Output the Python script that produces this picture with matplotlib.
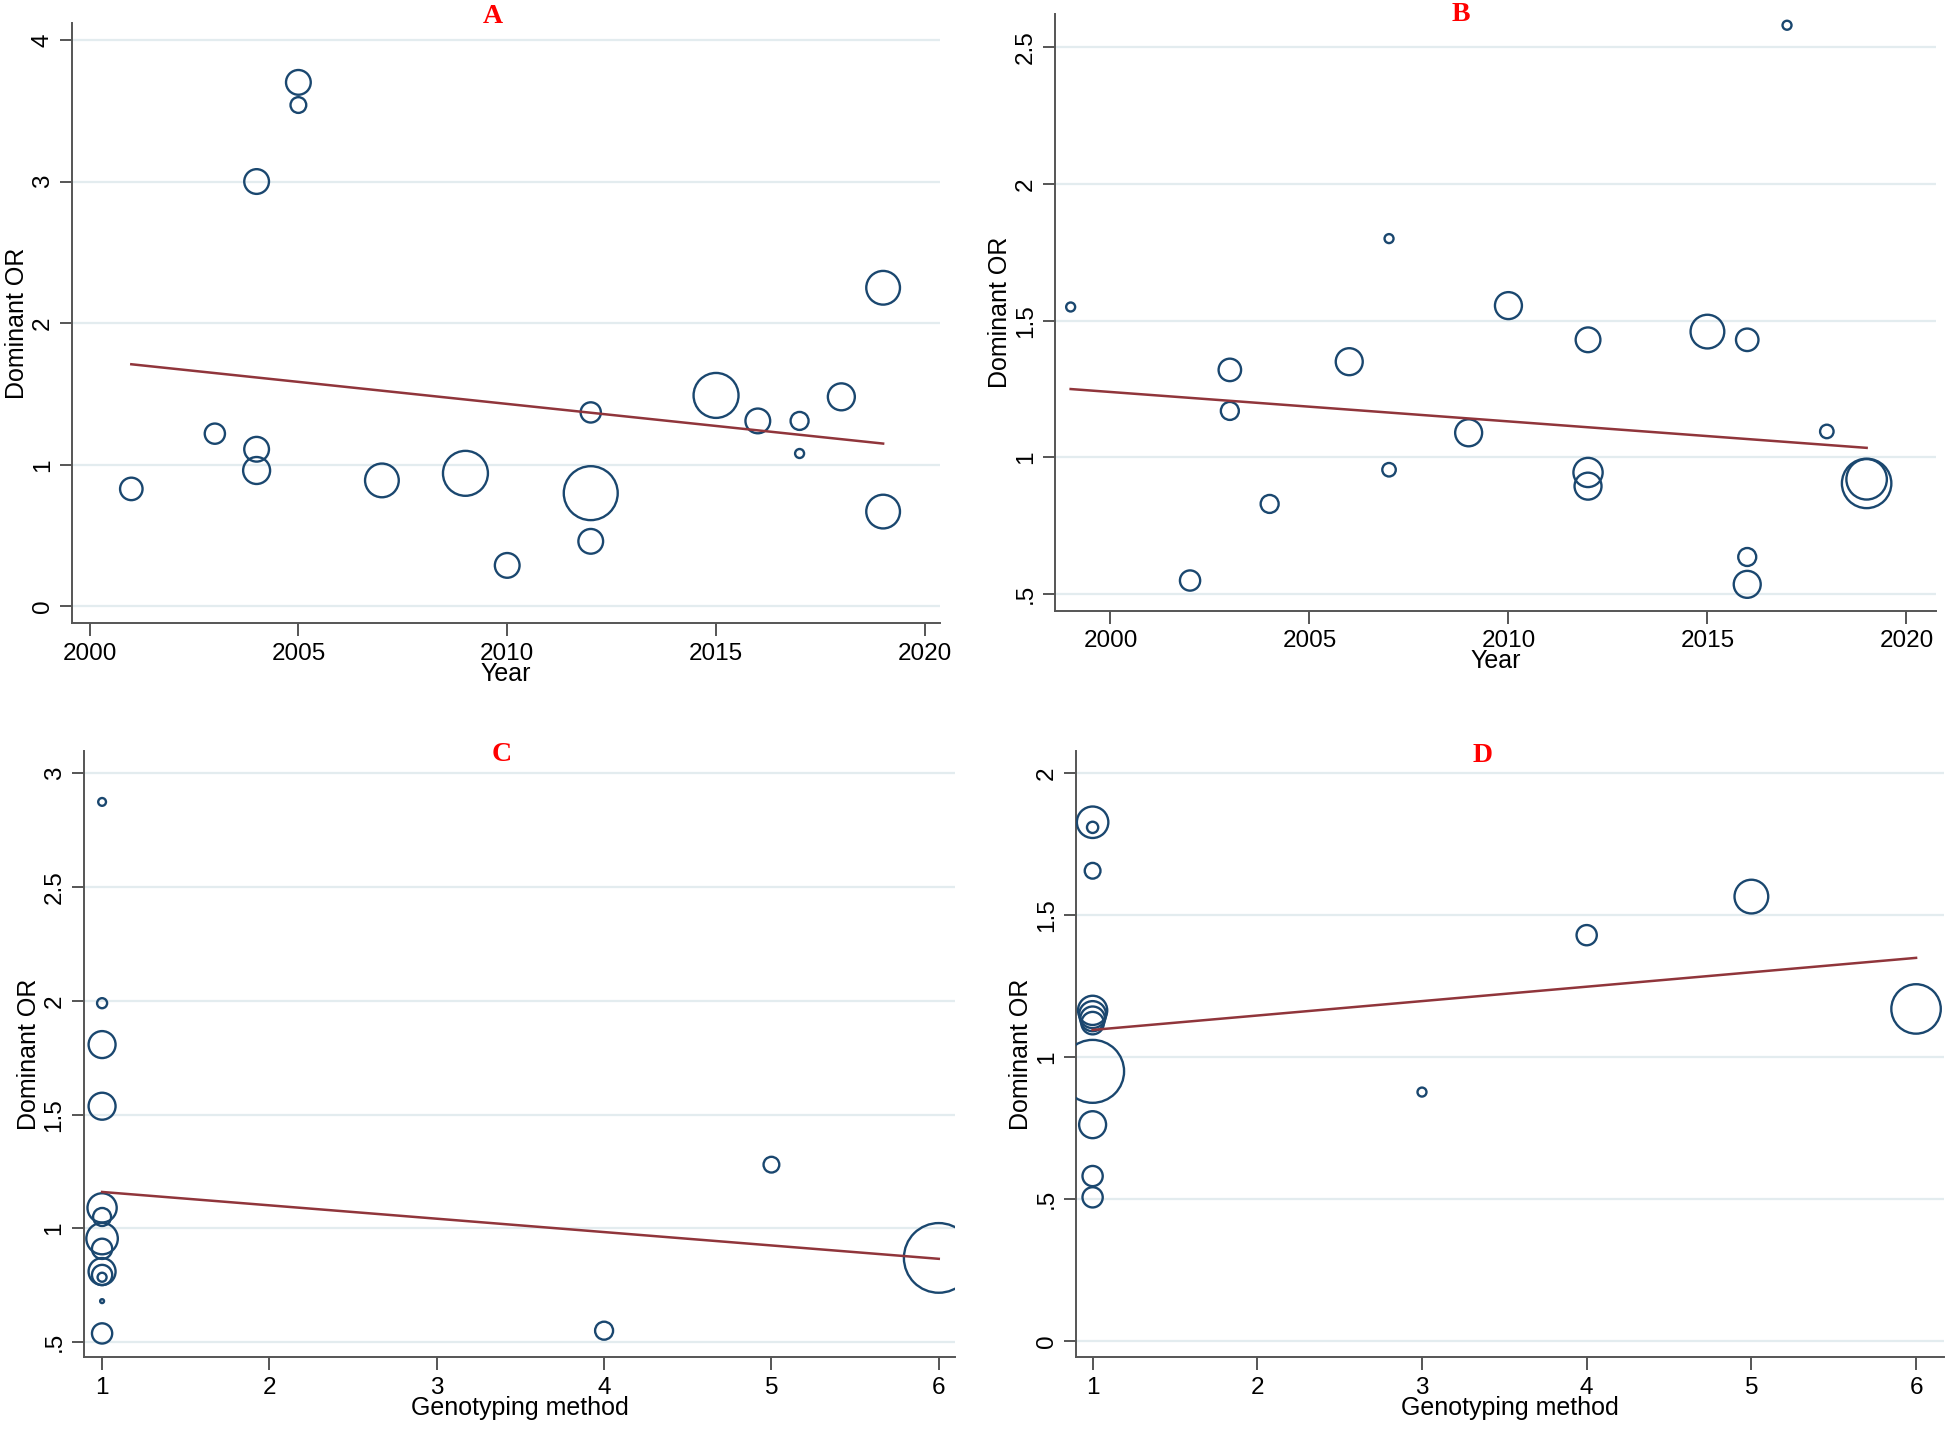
import matplotlib
matplotlib.use("Agg")
import matplotlib.pyplot as plt
import numpy as np

# ---------------- data ----------------
# Panel A: Dominant OR vs Year
yearA = [2001, 2003, 2004, 2004, 2004, 2005, 2005, 2007, 2009, 2010, 2012, 2012, 2012,
         2015, 2016, 2017, 2017, 2018, 2019, 2019]
orA = [0.83, 1.22, 3.00, 1.11, 0.96, 3.70, 3.54, 0.89, 0.94, 0.29, 1.37, 0.80, 0.46,
       1.49, 1.31, 1.31, 1.08, 1.48, 2.25, 0.67]
wA = [100, 81, 121, 121, 144, 121, 49, 225, 400, 121, 81, 576, 121,
      400, 121, 64, 16, 144, 225, 225]
fitA = [1.71, 1.15]

# Panel B: Dominant OR vs Year
yearB = [1999, 2002, 2003, 2003, 2004, 2006, 2007, 2007, 2009, 2010, 2012, 2012, 2012,
         2015, 2016, 2016, 2016, 2017, 2018, 2019, 2019]
orB = [1.55, 0.55, 1.32, 1.17, 0.83, 1.35, 1.80, 0.955, 1.09, 1.555, 1.43, 0.945, 0.895,
       1.46, 1.43, 0.636, 0.536, 2.58, 1.095, 0.92, 0.905]
wB = [16, 81, 100, 64, 64, 144, 16, 36, 144, 144, 121, 169, 144,
      225, 100, 64, 144, 16, 36, 324, 484]
fitB = [1.25, 1.035]

# Panel C: Dominant OR vs Genotyping method
methC = [1, 1, 1, 1, 1, 1, 1, 1, 1, 1, 1, 1, 1, 4, 5, 6]
orC = [2.875, 1.99, 1.808, 1.537, 1.09, 1.05, 0.955, 0.91, 0.81, 0.795, 0.785, 0.68, 0.538,
       0.55, 1.28, 0.87]
wC = [12, 20, 144, 144, 169, 64, 196, 81, 144, 81, 16, 3, 81, 64, 49, 961]
fitC = [1.16, 0.866]

# Panel D: Dominant OR vs Genotyping method
methD = [1, 1, 1, 1, 1, 1, 1, 1, 1, 1, 1, 3, 4, 5, 6]
orD = [1.828, 1.81, 1.657, 1.165, 1.15, 1.135, 1.12, 0.95, 0.762, 0.581, 0.506,
       0.877, 1.43, 1.566, 1.17]
wD = [196, 25, 49, 169, 144, 121, 100, 784, 144, 81, 81, 16, 81, 225, 484]
fitD = [1.096, 1.35]

ylabel = "Dominant OR"
titles = ["A", "B", "C", "D"]

# ---------------- style ----------------
NAVY = "#1a476f"
MAROON = "#90353b"
GRID = "#e3ecef"
SPINE = "#555555"
plt.rcParams["font.family"] = ["Liberation Sans", "DejaVu Sans"]

W, H = 1946, 1430
DPI = 100
fig = plt.figure(figsize=(W / DPI, H / DPI), dpi=DPI)

DISP = 1.241  # display->full factor
K = (2 * DISP * 0.72) ** 2 * 0.82  # weight (disp radius^2) -> scatter s


def fmt(v):
    s = ("%g" % v)
    if s.startswith("0.") and v != 0:
        s = s[1:]
    return s


def panel(rect, x, y, w, fit, xlim, ylim, xticks, yticks, xlabel, title, tpos):
    ax = fig.add_axes(rect)
    ax.set_xlim(*xlim)
    ax.set_ylim(*ylim)
    for yt in yticks:
        ax.axhline(yt, color=GRID, lw=1.6, zorder=0)
    ax.scatter(x, y, s=np.array(w) * K, facecolors="none", edgecolors=NAVY,
               linewidths=1.7, zorder=3)
    xf = [min(x), max(x)]
    ax.plot(xf, fit, color=MAROON, lw=1.8, zorder=4)
    for s in ["top", "right"]:
        ax.spines[s].set_visible(False)
    for s in ["left", "bottom"]:
        ax.spines[s].set_color(SPINE)
        ax.spines[s].set_linewidth(1.4)
    ax.set_xticks(xticks)
    ax.set_xticklabels([fmt(v) for v in xticks], fontsize=17.5)
    ax.set_yticks(yticks)
    ax.set_yticklabels([fmt(v) for v in yticks], fontsize=17.5, rotation=90, va="center")
    ax.tick_params(axis="both", length=9, width=1.4, color=SPINE, direction="out")
    ax.tick_params(axis="x", pad=5)
    ax.tick_params(axis="y", pad=4)
    ax.set_xlabel(xlabel, fontsize=18, labelpad=-2)
    ax.set_ylabel(ylabel, fontsize=18, labelpad=2)
    fig.text(tpos[0], tpos[1], title, fontsize=20, color="#ff0000", fontweight="bold",
             family="Liberation Serif", ha="center", va="center")
    return ax


axA = panel([0.037, 0.564, 0.446, 0.420], yearA, orA, wA, fitA,
            (1999.58, 2020.36), (-0.12, 4.12), [2000, 2005, 2010, 2015, 2020],
            [0, 1, 2, 3, 4], "Year", titles[0], (0.2532, 0.9887))
axB = panel([0.542, 0.573, 0.453, 0.417], yearB, orB, wB, fitB,
            (1998.6, 2020.75), (0.44, 2.62), [2000, 2005, 2010, 2015, 2020],
            [0.5, 1, 1.5, 2, 2.5], "Year", titles[1], (0.7506, 0.9896))
axC = panel([0.043, 0.051, 0.448, 0.424], methC, orC, wC, fitC,
            (0.89, 6.1), (0.434, 3.1), [1, 2, 3, 4, 5, 6],
            [0.5, 1, 1.5, 2, 2.5, 3], "Genotyping method", titles[2], (0.2577, 0.4722))
axD = panel([0.553, 0.051, 0.446, 0.424], methD, orD, wD, fitD,
            (0.90, 6.17), (-0.057, 2.08), [1, 2, 3, 4, 5, 6],
            [0, 0.5, 1, 1.5, 2], "Genotyping method", titles[3], (0.7621, 0.4714))

fig.savefig("out.png", dpi=DPI, facecolor="white")
